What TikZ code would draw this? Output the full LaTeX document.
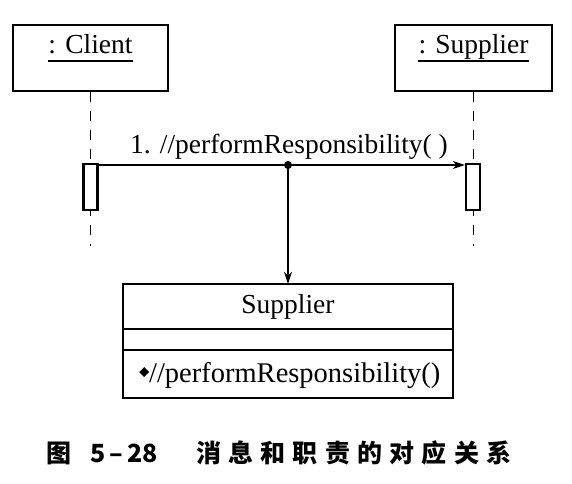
\documentclass[tikz,border=0pt]{standalone}
\usepackage{fontspec}
\setmainfont{Liberation Serif}
\newfontfamily\cjk{Noto Sans CJK SC}
\usetikzlibrary{arrows.meta}
\begin{document}
\begin{tikzpicture}[x=1pt,y=-1pt,
  objbox/.style={draw,line width=2.6pt,minimum width=155pt,minimum height=66pt,inner sep=0pt},
  lifeline/.style={line width=1.5pt,dash pattern=on 10pt off 9pt},
  actbar/.style={draw,line width=2.4pt,fill=white,minimum width=14pt,minimum height=46pt,inner sep=0pt},
  msg/.style={line width=1.3pt,-{Stealth[length=12pt,width=8pt]}},
  cls/.style={draw,line width=2.6pt},
  uline/.style={line width=1.6pt},
  lbl/.style={font=\fontsize{27.5}{30}\selectfont,inner sep=0pt}]
\useasboundingbox (0,0) rectangle (572,483);
% objects
\node[objbox] (client) at (90.5,58) {};
\node[lbl,anchor=base] (clientlbl) at (90.5,53) {: Client};
\draw[uline] (clientlbl.west |- 0,61) -- (clientlbl.east |- 0,61);
\node[objbox,minimum width=157pt] (supplier) at (473.5,58) {};
\node[lbl,anchor=base] (supplierlbl) at (473.5,53) {: Supplier};
\draw[uline] (supplierlbl.west |- 0,61) -- (supplierlbl.east |- 0,61);
% lifelines
\coordinate (cl-end) at (90.5,246);
\coordinate (sl-end) at (473.5,246);
\draw[lifeline] (client.south) -- (cl-end);
\draw[lifeline] (supplier.south) -- (sl-end);
% activation bars
\node[actbar] (cbar) at (90.5,187) {};
\node[actbar] (sbar) at (473,187) {};
% message
\coordinate (cstart) at (cbar.east |- 0,165);
\coordinate (send) at (sbar.west |- 0,165);
\draw[msg] (cstart) -- (send);
\node[lbl,anchor=base] (msglbl) at (289,153) {1. //performResponsibility( )};
\coordinate (dot) at (288,165);
\fill (dot) circle (4pt);
% class box
\node[draw=none,minimum width=330pt,minimum height=114pt,inner sep=0pt] (class) at (288,341) {};
\draw[cls] (123,284) rectangle (453,398);
\draw[cls] (123,329) -- (453,329);
\draw[cls] (123,350) -- (453,350);
\node[lbl,anchor=base] (clsname) at (288,313) {Supplier};
\node[lbl,anchor=base west] (method) at (139,382) {\raisebox{5pt}{\rotatebox{45}{\rule{7pt}{7pt}}}\fontsize{28.5}{30}\selectfont//performResponsibility()};
\draw[line width=1.6pt,-{Stealth[length=12pt,width=8pt]}] (dot) -- (class.north);
% caption
\node[anchor=base west,inner sep=0pt,font=\cjk\bfseries\fontsize{25}{28}\selectfont] (cap1) at (46,462) {图};
\node[anchor=base west,inner sep=0pt,font=\cjk\bfseries\fontsize{25}{28}\selectfont] (cap2) at (90,462) {5\,–\,28};
\node[anchor=base west,inner sep=0pt,font=\cjk\bfseries\fontsize{25}{28}\selectfont\addfontfeature{LetterSpace=29}] (cap3) at (196,462) {消息和职责的对应关系};
\end{tikzpicture}
\end{document}
